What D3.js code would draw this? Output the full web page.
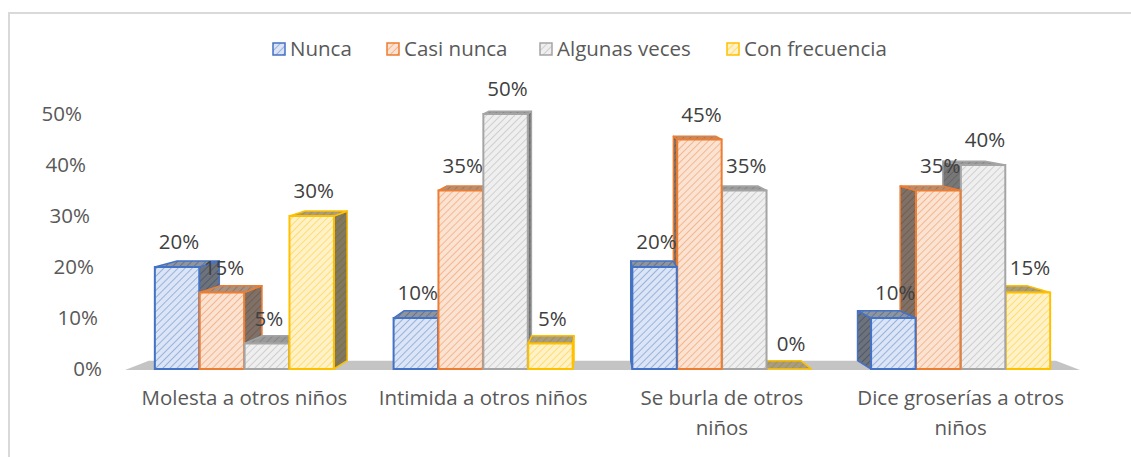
<!DOCTYPE html>
<html>
<head>
<meta charset="utf-8">
<script src="https://cdn.jsdelivr.net/npm/d3@7"></script>
<style>
  body { margin: 0; background: #fff; }
  text { font-family: "Open Sans", "Noto Sans", sans-serif; fill: #595959; }
</style>
</head>
<body>
<div id="chart"></div>
<script>
// data
var categories = ['Molesta a otros niños', 'Intimida a otros niños', 'Se burla de otros niños', 'Dice groserías a otros niños'];
var seriesNames = ['Nunca', 'Casi nunca', 'Algunas veces', 'Con frecuencia'];
var nunca = [0.20, 0.10, 0.20, 0.10];
var casiNunca = [0.15, 0.35, 0.45, 0.35];
var algunasVeces = [0.05, 0.50, 0.35, 0.40];
var conFrecuencia = [0.30, 0.05, 0.00, 0.15];
var yTicks = [0, 0.1, 0.2, 0.3, 0.4, 0.5];

var seriesValues = [nunca, casiNunca, algunasVeces, conFrecuencia];
var lineColors = ['#4472c4', '#ed7d31', '#a5a5a5', '#ffc000'];
var bgColors = ['#dce5f5', '#fbe3d3', '#efefef', '#fff2c8'];

var width = 1131, height = 457;
var fontSize = '20.5px';
var vx = 600;      // fake vanishing point for the 3d look
var kx = 0.05, ky = 0.022, eyeY = -10;

var svg = d3.select('#chart').append('svg')
    .attr('width', width)
    .attr('height', height);

// frame (only top/left visible in the crop)
svg.append('rect')
    .attr('x', 9).attr('y', 13)
    .attr('width', 1140).attr('height', 460)
    .attr('fill', 'none')
    .attr('stroke', '#d9d9d9')
    .attr('stroke-width', 2);

// hatch patterns
var defs = svg.append('defs');
seriesNames.forEach(function(s, i) {
    var p = defs.append('pattern')
        .attr('id', 'hatch' + i)
        .attr('patternUnits', 'userSpaceOnUse')
        .attr('width', 5).attr('height', 5)
        .attr('patternTransform', 'rotate(45)');
    p.append('rect').attr('width', 5).attr('height', 5).attr('fill', bgColors[i]);
    p.append('line')
        .attr('x1', 0).attr('y1', 0).attr('x2', 0).attr('y2', 5)
        .attr('stroke', lineColors[i])
        .attr('stroke-opacity', 0.55)
        .attr('stroke-width', 1.6);
});

var x0 = d3.scaleBand()
    .domain(categories)
    .range([125, 1080])
    .paddingInner(0.25)
    .paddingOuter(0.125);

var x1 = d3.scaleBand()
    .domain(seriesNames)
    .range([0, x0.bandwidth()])
    .paddingInner(0.01);

var y = d3.scaleLinear()
    .domain([0, 0.5])
    .range([369, 114]);

function back(px, py) {
    return [px + (vx - px) * kx, py - (py - eyeY) * ky];
}

// floor
var fl = back(125, y(0)), fr = back(1080, y(0));
svg.append('path')
    .attr('d', 'M125,' + (y(0) + 1) + 'L1080,' + (y(0) + 1) + 'L' + fr[0] + ',' + fr[1] + 'L' + fl[0] + ',' + fl[1] + 'Z')
    .attr('fill', '#c4c4c4');

// bars
var bars = [];
categories.forEach(function(c, ci) {
    seriesNames.forEach(function(s, si) {
        var xa = x0(c) + x1(s);
        bars.push({ ci: ci, si: si, x: xa, w: x1.bandwidth(), v: seriesValues[si][ci] });
    });
});
bars.sort(function(a, b) {
    return Math.abs(b.x + b.w / 2 - vx) - Math.abs(a.x + a.w / 2 - vx);
});

var barG = svg.append('g');
bars.forEach(function(b) {
    var g = barG.append('g');
    var xl = b.x, xr = b.x + b.w, yt = y(b.v), yb = y(0);
    var col = lineColors[b.si];
    var fill = 'url(#hatch' + b.si + ')';
    var tl = back(xl, yt), tr = back(xr, yt), bl = back(xl, yb), br = back(xr, yb);
    var side;
    if (xl + b.w / 2 < vx) {
        side = [[xr, yt], tr, br, [xr, yb]];
    } else {
        side = [[xl, yt], tl, bl, [xl, yb]];
    }
    var top = [[xl, yt], tl, tr, [xr, yt]];
    [[side, 0.5], [top, 0.35]].forEach(function(f) {
        var d = 'M' + f[0].map(function(p) { return p.join(','); }).join('L') + 'Z';
        g.append('path').attr('d', d).attr('fill', fill);
        g.append('path').attr('d', d)
            .attr('fill', '#000').attr('fill-opacity', f[1])
            .attr('stroke', col).attr('stroke-width', 1.5).attr('stroke-linejoin', 'round');
    });
    g.append('rect')
        .attr('x', xl).attr('y', yt)
        .attr('width', b.w).attr('height', yb - yt)
        .attr('fill', fill)
        .attr('stroke', col)
        .attr('stroke-width', 2);
});

// data labels
bars.forEach(function(b) {
    svg.append('text')
        .attr('x', b.x + b.w / 2 + 2)
        .attr('y', y(b.v) - 25)
        .attr('dy', '0.35em')
        .attr('text-anchor', 'middle')
        .style('font-size', fontSize)
        .style('fill', '#404040')
        .text(d3.format('.0%')(b.v));
});

// y axis, ticks slant with the 3d wall
var yAxis = svg.append('g')
    .attr('transform', 'translate(102,0)')
    .call(d3.axisLeft(y).tickValues(yTicks).tickFormat(d3.format('.0%')).tickSize(0));
yAxis.select('.domain').remove();
yAxis.selectAll('text')
    .attr('x', function(d) { return -d * 40; })
    .style('font-size', fontSize)
    .style('font-family', '"Open Sans", sans-serif')
    .attr('fill', '#595959');

// category labels
var catG = svg.append('g');
categories.forEach(function(c) {
    var cx = x0(c) + x0.bandwidth() / 2;
    var t = catG.append('text')
        .attr('x', cx)
        .attr('y', 405)
        .attr('text-anchor', 'middle')
        .style('font-size', fontSize);
    var words = c.split(' '), line = [], tspan = t.append('tspan').attr('x', cx);
    words.forEach(function(wd) {
        line.push(wd);
        tspan.text(line.join(' '));
        if (tspan.node().getComputedTextLength() > 217 && line.length > 1) {
            line.pop();
            tspan.text(line.join(' '));
            line = [wd];
            tspan = t.append('tspan')
                .attr('x', cx)
                .attr('dy', 30)
                .text(wd);
        }
    });
});

// legend
var legendX = [273, 387, 540, 727];
var legend = svg.append('g');
seriesNames.forEach(function(s, i) {
    var lg = legend.append('g').attr('transform', 'translate(' + legendX[i] + ',43)');
    lg.append('rect')
        .attr('width', 12).attr('height', 12)
        .attr('fill', 'url(#hatch' + i + ')')
        .attr('stroke', lineColors[i])
        .attr('stroke-width', 1.5);
    lg.append('text')
        .attr('x', 17).attr('y', 6)
        .attr('dy', '0.35em')
        .style('font-size', fontSize)
        .text(s);
});
</script>
</body>
</html>
